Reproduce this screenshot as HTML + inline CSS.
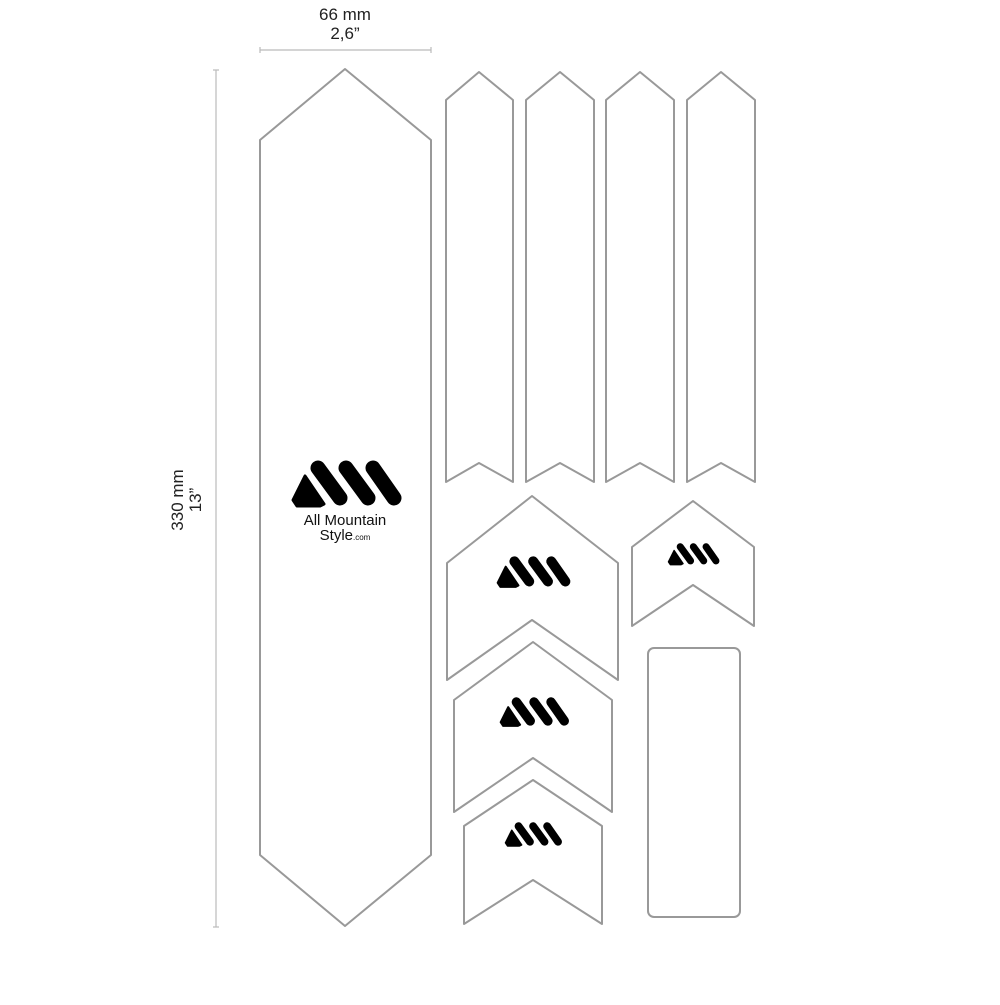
<!DOCTYPE html>
<html><head><style>
html,body{margin:0;padding:0;background:#fff;}
</style></head><body>
<svg width="1000" height="1000" viewBox="0 0 1000 1000" xmlns="http://www.w3.org/2000/svg">
<defs>
<g id="lg">
  <g stroke="#000" stroke-width="15" stroke-linecap="round" fill="none">
    <line x1="26" y1="8" x2="48" y2="38"/>
    <line x1="54" y1="8" x2="76" y2="38"/>
    <line x1="81" y1="8" x2="102" y2="38"/>
  </g>
  <polygon points="13,16 32,44 28,46 5,46 1,40" fill="#000" stroke="#000" stroke-width="3" stroke-linejoin="round"/>
</g>
</defs>
<rect width="1000" height="1000" fill="#fff"/>
<g font-family="'Liberation Sans',sans-serif" fill="#222" font-size="17">
  <text x="345" y="20" text-anchor="middle">66 mm</text>
  <text x="345" y="39" text-anchor="middle">2,6”</text>
  <text transform="translate(183,500) rotate(-90)" text-anchor="middle">330 mm</text>
  <text transform="translate(201,500) rotate(-90)" text-anchor="middle">13”</text>
</g>
<g stroke="#bbb" stroke-width="1.2">
  <line x1="260" y1="50" x2="431" y2="50"/>
  <line x1="260" y1="47" x2="260" y2="53"/><line x1="431" y1="47" x2="431" y2="53"/>
  <line x1="216" y1="70" x2="216" y2="927"/>
  <line x1="213" y1="70" x2="219" y2="70"/><line x1="213" y1="927" x2="219" y2="927"/>
</g>
<g fill="none" stroke="#999" stroke-width="2" stroke-linejoin="round">
  <path d="M345,69 L431,140 L431,855 L345,926 L260,855 L260,140 Z"/>
  <path d="M479,72 L513,100 L513,482 L479,463 L446,482 L446,100 Z"/>
  <path d="M560,72 L594,100 L594,482 L560,463 L526,482 L526,100 Z"/>
  <path d="M640,72 L674,100 L674,482 L640,463 L606,482 L606,100 Z"/>
  <path d="M721,72 L755,100 L755,482 L721,463 L687,482 L687,100 Z"/>
  <path d="M532,496 L618,563 L618,680 L532,620 L447,680 L447,563 Z"/>
  <path d="M693,501 L754,547 L754,626 L693,585 L632,626 L632,547 Z"/>
  <path d="M533,642 L612,700 L612,812 L533,758 L454,812 L454,700 Z"/>
  <path d="M533,780 L602,826 L602,924 L533,880 L464,924 L464,826 Z"/>
  <rect x="648" y="648" width="92" height="269" rx="6"/>
</g>
<use href="#lg" transform="translate(292,460)"/>
<use href="#lg" transform="translate(497,556) scale(0.67)"/>
<use href="#lg" transform="translate(668,543) scale(0.47)"/>
<use href="#lg" transform="translate(500,697) scale(0.63)"/>
<use href="#lg" transform="translate(505,822) scale(0.52)"/>
<g font-family="'Liberation Sans',sans-serif" fill="#111">
  <text x="345" y="525" text-anchor="middle" font-size="15">All Mountain</text>
  <text x="345" y="540" text-anchor="middle" font-size="15">Style<tspan font-size="8">.com</tspan></text>
</g>
</svg>
</body></html>
